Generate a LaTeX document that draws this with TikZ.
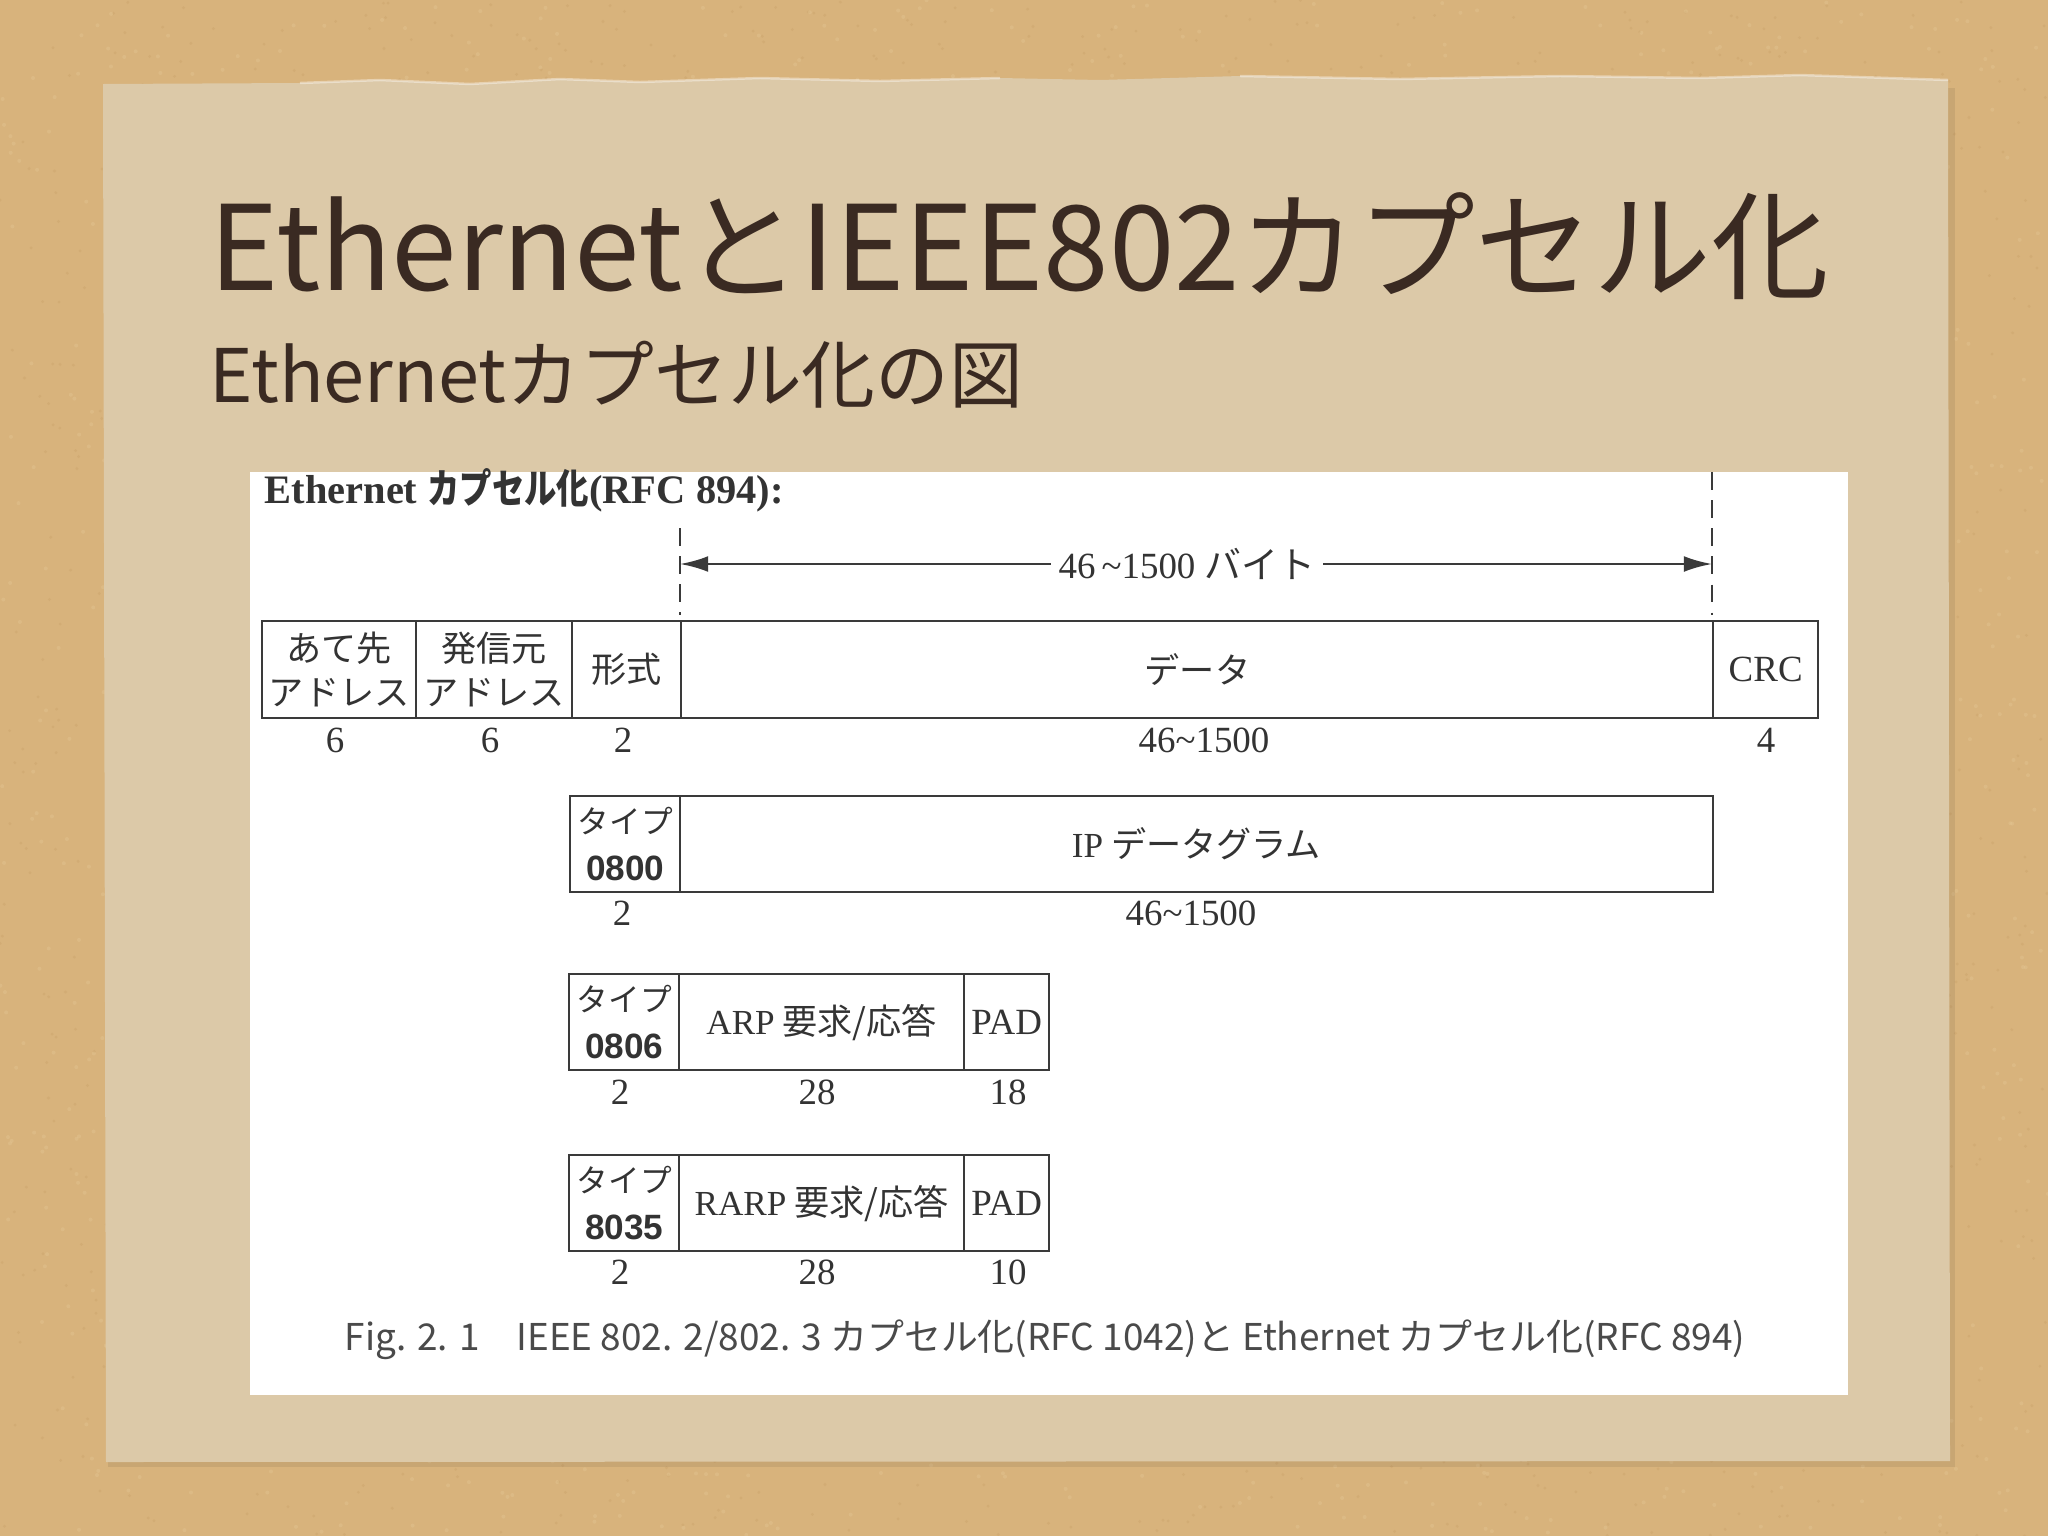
\documentclass[tikz,border=0pt]{standalone}
\usepackage{fontspec}
\usepackage{graphicx}
\setmainfont{Liberation Serif}
\setsansfont{Liberation Sans}
\newfontfamily\jp{Noto Sans CJK JP}
\usetikzlibrary{arrows.meta}
\definecolor{cork}{HTML}{D8B37C}
\definecolor{corkd}{HTML}{B88D55}
\definecolor{corkl}{HTML}{E6C996}
\definecolor{paper}{HTML}{DCC9A8}
\definecolor{ink}{HTML}{3A2A22}
\definecolor{linec}{HTML}{3A3A3A}
\definecolor{txt}{HTML}{333333}
\definecolor{capc}{HTML}{4A4A4A}
\begin{document}
\begin{tikzpicture}[x=0.01cm,y=-0.01cm,
  fld/.style={draw=linec, line width=0.65pt, fill=white, inner sep=0pt, anchor=north west,
    align=center, text=txt, font=\jp\fontsize{10}{12.5}\selectfont},
  num/.style={font=\fontsize{10.5}{12}\selectfont, text=txt, inner sep=0pt},
  dline/.style={draw=linec, line width=0.6pt, dash pattern=on 5pt off 3pt},
  dimarrow/.style={draw=linec, line width=0.7pt, -{Latex[length=8pt,width=4.5pt]}}
]
\useasboundingbox (0,0) rectangle (2048,1536);
% cork board
\fill[cork] (0,0) rectangle (2048,1536);
\pgfmathsetseed{7}
\foreach \i in {1,...,2200} {\fill[corkd, opacity=0.18] ({rnd*2048},{rnd*1536}) circle (1.6);}
\foreach \i in {1,...,1800} {\fill[corkl, opacity=0.35] ({rnd*2048},{rnd*1536}) circle (2);}
% paper shadow
\fill[black, opacity=0.07] (108,88) rectangle (1955,1467);
% paper
\fill[paper] (103,84) -- (300,83) -- (380,80) -- (470,84) -- (560,79) -- (640,82) -- (760,78)
  -- (880,81) -- (1000,78) -- (1100,80) -- (1240,76) -- (1400,79) -- (1560,76) -- (1700,78)
  -- (1800,75) -- (1948,80) -- (1950,1461) -- (106,1462) -- cycle;
\draw[white, opacity=0.4, line width=0.7pt] (300,83) -- (380,80) -- (470,84) -- (560,79) -- (640,82) -- (760,78)
  -- (880,81) -- (1000,78);
\draw[white, opacity=0.4, line width=0.7pt] (1240,76) -- (1400,79) -- (1560,76) -- (1700,78)
  -- (1800,75) -- (1948,80);
% titles
\node[anchor=base west, inner sep=0pt, text=ink, font=\jp\fontsize{33.5}{40}\selectfont] (title) at (209,290) {EthernetとIEEE802カプセル化};
\node[anchor=base west, inner sep=0pt, text=ink, font=\jp\fontsize{21}{25}\selectfont] (subtitle) at (209,402) {Ethernetカプセル化の図};
% figure
\fill[white] (250,472) rectangle (1848,1395);
\node[anchor=west, inner sep=0pt, text=txt, font=\bfseries\fontsize{11.5}{13}\selectfont] (hdr) at (264,490) {Ethernet {\jp\scalebox{0.8}[1]{カプセル化}}(RFC 894):};
% dashed guides
\coordinate (d1t) at (680,528); \coordinate (d1b) at (680,615);
\coordinate (d2t) at (1712,472); \coordinate (d2b) at (1712,615);
\draw[dline] (d1t) -- (d1b);
\draw[dline] (d2t) -- (d2b);
\coordinate (al) at (680,564); \coordinate (ar) at (1712,564);
\node[fill=white, inner sep=2pt, text=txt, font=\fontsize{10.5}{12}\selectfont] (len) at (1187,564) {46\,\textasciitilde1500 {\jp バイト}};
\draw[dimarrow] (len.west) -- (al);
\draw[dimarrow] (len.east) -- (ar);
% Ethernet frame
\node[fld, minimum width=1.54cm, minimum height=0.97cm] (dst) at (261,620) {あて先\\アドレス};
\node[fld, minimum width=1.56cm, minimum height=0.97cm] (src) at (415,620) {発信元\\アドレス};
\node[fld, minimum width=1.09cm, minimum height=0.97cm] (fmt) at (571,620) {形式};
\node[fld, minimum width=10.32cm, minimum height=0.97cm] (data) at (680,620) {データ};
\node[fld, minimum width=1.05cm, minimum height=0.97cm, font=\fontsize{10.5}{12}\selectfont] (crc) at (1712,620) {CRC};
\node[num] (n1) at (335,740) {6};
\node[num] (n2) at (490,740) {6};
\node[num] (n3) at (623,740) {2};
\node[num] (n4) at (1204,740) {46\textasciitilde1500};
\node[num] (n5) at (1766,740) {4};
% IP
\node[fld, minimum width=1.10cm, minimum height=0.96cm] (t1) at (569,795) {{\fontsize{9}{10}\selectfont タイプ}\\[1pt]{\sffamily\bfseries 0800}};
\node[fld, minimum width=10.32cm, minimum height=0.96cm] (ip) at (679,795) {{\rmfamily IP} データグラム};
\node[num] (m1) at (622,913) {2};
\node[num] (m2) at (1191,913) {46\textasciitilde1500};
% ARP
\node[fld, minimum width=1.10cm, minimum height=0.96cm] (t2) at (568,973) {{\fontsize{9}{10}\selectfont タイプ}\\[1pt]{\sffamily\bfseries 0806}};
\node[fld, minimum width=2.85cm, minimum height=0.96cm] (arp) at (678,973) {{\rmfamily ARP} 要求/応答};
\node[fld, minimum width=0.85cm, minimum height=0.96cm, font=\fontsize{10.5}{12}\selectfont] (pad1) at (963,973) {PAD};
\node[num] (a1) at (620,1092) {2};
\node[num] (a2) at (817,1092) {28};
\node[num] (a3) at (1008,1092) {18};
% RARP
\node[fld, minimum width=1.10cm, minimum height=0.96cm] (t3) at (568,1154) {{\fontsize{9}{10}\selectfont タイプ}\\[1pt]{\sffamily\bfseries 8035}};
\node[fld, minimum width=2.85cm, minimum height=0.96cm] (rarp) at (678,1154) {{\rmfamily RARP} 要求/応答};
\node[fld, minimum width=0.85cm, minimum height=0.96cm, font=\fontsize{10.5}{12}\selectfont] (pad2) at (963,1154) {PAD};
\node[num] (r1) at (620,1272) {2};
\node[num] (r2) at (817,1272) {28};
\node[num] (r3) at (1008,1272) {10};
% caption
\node[inner sep=0pt, text=capc, font=\jp\fontsize{10.5}{12}\selectfont] (cap) at (1045,1340) {Fig. 2. 1\quad IEEE 802. 2/802. 3 カプセル化(RFC 1042)と Ethernet カプセル化(RFC 894)};
\end{tikzpicture}
\end{document}
